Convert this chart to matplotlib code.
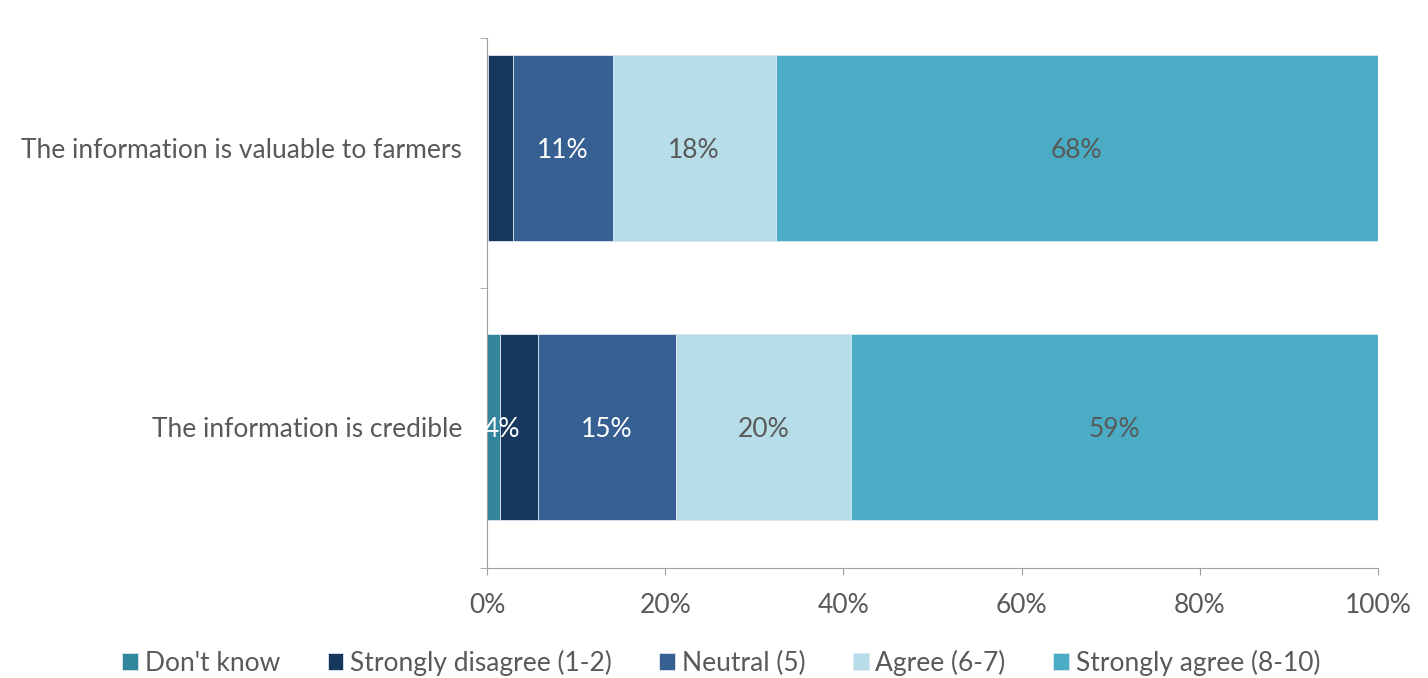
import numpy as np
import matplotlib
matplotlib.use("Agg")
import matplotlib.pyplot as plt

plt.rcParams['font.family'] = ['Lato', 'DejaVu Sans']

# data (percent), bottom row first
categories = ['The information is credible', 'The information is valuable to farmers']
series = ["Don't know", 'Strongly disagree (1-2)', 'Neutral (5)', 'Agree (6-7)', 'Strongly agree (8-10)']
dont_know = [1.5, 0.1]
strongly_disagree = [4.2, 2.8]
neutral = [15.5, 11.2]
agree = [19.7, 18.3]
strongly_agree = [59.1, 67.6]
# labels shown in the bars ('' = none)
labels_dk = ['', '']
labels_sd = ['4%', '']
labels_ne = ['15%', '11%']
labels_ag = ['20%', '18%']
labels_sa = ['59%', '68%']

colors = ['#31859C', '#17375E', '#366092', '#B7DEE8', '#4BACC6']
text_cols = ['white', 'white', 'white', '#595959', '#595959']
grey = '#595959'
fs = 19

fig = plt.figure(figsize=(14.28, 6.78), dpi=100)
ax = fig.add_axes([0.341, 0.162, 0.624, 0.782])

vals = [dont_know, strongly_disagree, neutral, agree, strongly_agree]
labs = [labels_dk, labels_sd, labels_ne, labels_ag, labels_sa]
y = np.arange(len(categories))
left = np.zeros(len(categories))
for i in range(len(series)):
    v = np.array(vals[i])
    ax.barh(y, v, left=left, height=0.667, color=colors[i], label=series[i],
            edgecolor='#dce6f0', linewidth=0.6)
    for j in range(len(categories)):
        if labs[i][j]:
            # the small 4% label sits at the start of its segment
            xc = left[j] + 0.2 if i == 1 else left[j] + v[j] / 2
            ax.text(xc, y[j] - 0.01, labs[i][j], ha='center', va='center',
                    color=text_cols[i], fontsize=fs)
    left += v

ax.set_xlim(0, 100)
ax.set_ylim(-0.505, 1.394)
ax.set_xticks(np.arange(0, 101, 20))
ax.set_xticklabels(['%d%%' % t for t in range(0, 101, 20)])
ax.set_yticks(y)
ax.set_yticklabels(categories)
ax.set_yticks([-0.505, 0.5, 1.394], minor=True)
ax.tick_params(axis='y', which='major', length=0, labelsize=fs, labelcolor=grey, pad=18)
ax.tick_params(axis='y', which='minor', length=5, color='#a0a0a0', direction='out')
ax.tick_params(axis='x', length=5, color='#a0a0a0', labelsize=fs, labelcolor=grey, pad=13)
for s in ['top', 'right']:
    ax.spines[s].set_visible(False)
ax.spines['left'].set_color('#a0a0a0')
ax.spines['bottom'].set_color('#a0a0a0')

leg = fig.legend(loc='lower center', bbox_to_anchor=(0.505, -0.032), ncol=5, frameon=False,
                 fontsize=fs, handlelength=0.6, handleheight=0.6, handletextpad=0.25,
                 columnspacing=1.8)
for t in leg.get_texts():
    t.set_color(grey)

fig.savefig('out.png', dpi=100)
